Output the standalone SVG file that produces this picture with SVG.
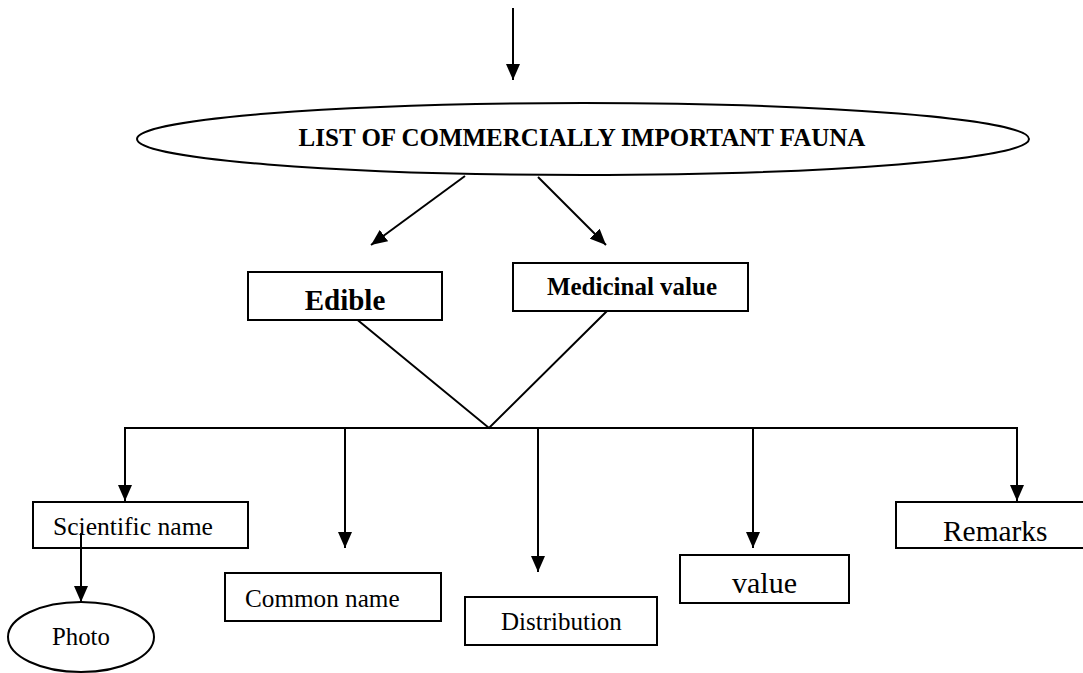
<svg xmlns="http://www.w3.org/2000/svg" width="1083" height="673" viewBox="0 0 1083 673">
<style>
.box{fill:#fff;stroke:#000;stroke-width:2}
.ln{fill:none;stroke:#000;stroke-width:2}
.t{font-family:"Liberation Serif","Times New Roman",serif;fill:#000}
.b{font-weight:bold}
</style>
<defs>
<marker id="ah" viewBox="0 0 16 14" refX="16" refY="7" markerWidth="16" markerHeight="14" markerUnits="userSpaceOnUse" orient="auto">
<path d="M0,0 L16,7 L0,14 Z" fill="#000"/>
</marker>
</defs>
<rect width="1083" height="673" fill="#fff"/>
<g id="connectors">
<line class="ln" x1="513" y1="8" x2="513" y2="80" marker-end="url(#ah)"/>
<line class="ln" x1="465" y1="176" x2="371" y2="245" marker-end="url(#ah)"/>
<line class="ln" x1="538" y1="177" x2="606" y2="245" marker-end="url(#ah)"/>
<polyline class="ln" points="343,308 489,428 608,310"/>
<polyline class="ln" points="125,500 125,428 1017,428 1017,500"/>
<line class="ln" x1="125" y1="470" x2="125" y2="501" marker-end="url(#ah)"/>
<line class="ln" x1="1017" y1="470" x2="1017" y2="501" marker-end="url(#ah)"/>
<line class="ln" x1="345" y1="428" x2="345" y2="548" marker-end="url(#ah)"/>
<line class="ln" x1="538" y1="428" x2="538" y2="572" marker-end="url(#ah)"/>
<line class="ln" x1="753" y1="428" x2="753" y2="548" marker-end="url(#ah)"/>
</g>
<g id="fauna">
<ellipse class="box" cx="583" cy="139" rx="446" ry="36"/>
<text class="t b" x="582" y="146" font-size="25" text-anchor="middle">LIST OF COMMERCIALLY IMPORTANT FAUNA</text>
</g>
<g id="edible">
<rect class="box" x="248" y="272" width="194" height="48"/>
<text class="t b" x="345" y="310" font-size="29" text-anchor="middle">Edible</text>
</g>
<g id="medicinal">
<rect class="box" x="513" y="263" width="235" height="48"/>
<text class="t b" x="632" y="295" font-size="25" text-anchor="middle">Medicinal value</text>
</g>
<g id="scientific">
<rect class="box" x="33" y="502" width="215" height="46"/>
<text class="t" x="53" y="535" font-size="25.6">Scientific name</text>
</g>
<g id="common">
<rect class="box" x="225" y="573" width="216" height="48"/>
<text class="t" x="245" y="607" font-size="25.2">Common name</text>
</g>
<g id="distribution">
<rect class="box" x="465" y="597" width="192" height="48"/>
<text class="t" x="501" y="630" font-size="25">Distribution</text>
</g>
<g id="value">
<rect class="box" x="680" y="555" width="169" height="48"/>
<text class="t" x="732" y="593" font-size="30">value</text>
</g>
<g id="remarks">
<rect class="box" x="896" y="502" width="190" height="46"/>
<text class="t" x="943" y="541" font-size="29.4">Remarks</text>
</g>
<g id="photo-link">
<line class="ln" x1="81" y1="533" x2="81" y2="602" marker-end="url(#ah)"/>
</g>
<g id="photo">
<ellipse class="box" cx="81" cy="637" rx="73" ry="35"/>
<text class="t" x="52" y="645" font-size="24.8">Photo</text>
</g>
</svg>
